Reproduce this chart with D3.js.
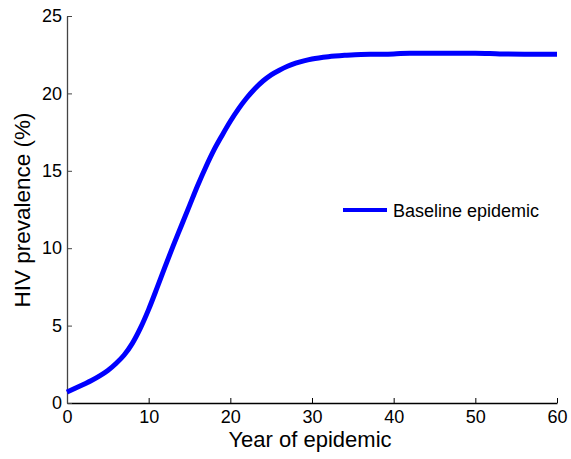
<!DOCTYPE html>
<html>
<head>
<meta charset="utf-8">
<script src="https://cdn.jsdelivr.net/npm/d3@7"></script>
<style>
  body { margin: 0; background: #fff; }
  text { font-family: "Liberation Sans", Arial, sans-serif; fill: #000; }
</style>
</head>
<body>
<svg width="571" height="459"></svg>
<script>
// datos
var years = [0, 1, 2, 3, 4, 5, 6, 7, 8, 9, 10, 11, 12, 13, 14, 15, 16, 17, 18, 19, 20,
             21, 22, 23, 24, 25, 26, 27, 28, 29, 30, 32, 34, 36, 38, 40, 42, 46, 50, 53, 56, 60];
var prevalence = [0.7, 0.95, 1.2, 1.45, 1.75, 2.1, 2.55, 3.1, 3.85, 4.85, 6.05, 7.4, 8.8, 10.15, 11.45,
                  12.75, 14.05, 15.25, 16.35, 17.3, 18.2, 19.0, 19.7, 20.3, 20.8, 21.2, 21.5, 21.75,
                  21.95, 22.1, 22.22, 22.37, 22.46, 22.52, 22.53, 22.55, 22.6, 22.6, 22.6, 22.55, 22.53, 22.53];
var xTicks = [0, 10, 20, 30, 40, 50, 60];
var yTicks = [0, 5, 10, 15, 20, 25];
var serieNombre = "Baseline epidemic";

var svg = d3.select("svg");

var x = d3.scaleLinear().domain([0, 60]).range([67, 557]);
var y = d3.scaleLinear().domain([0, 25]).range([403, 16]);

// eje x
var ejeX = svg.append("g")
    .attr("transform", "translate(0,403)")
    .call(d3.axisBottom(x).tickValues(xTicks).tickSizeInner(-5).tickSizeOuter(0).tickPadding(7));
ejeX.select(".domain").attr("stroke", "#000").attr("stroke-width", 1.3);
ejeX.selectAll(".tick line").attr("stroke", "#000");
ejeX.selectAll("text").style("font-size", "18px").attr("fill", "#000");

// eje y
var ejeY = svg.append("g")
    .attr("transform", "translate(67,0)")
    .call(d3.axisLeft(y).tickValues(yTicks).tickSizeInner(-5).tickSizeOuter(0).tickPadding(5));
ejeY.select(".domain").attr("stroke", "#444").attr("stroke-width", 1.3);
ejeY.selectAll(".tick line").attr("stroke", "#444");
ejeY.selectAll("text").style("font-size", "18px").attr("fill", "#000");

// titulos
svg.append("text")
    .attr("x", 310).attr("y", 447)
    .attr("text-anchor", "middle")
    .style("font-size", "22px")
    .text("Year of epidemic");

svg.append("text")
    .attr("transform", "translate(30,210) rotate(-90)")
    .attr("text-anchor", "middle")
    .style("font-size", "22.5px")
    .text("HIV prevalence (%)");

// curva
var datos = years.map(function (d, i) { return [d, prevalence[i]]; });
var linea = d3.line()
    .x(function (d) { return x(d[0]); })
    .y(function (d) { return y(d[1]); })
    .curve(d3.curveMonotoneX);

svg.append("path")
    .datum(datos)
    .attr("d", linea)
    .attr("fill", "none")
    .attr("stroke", "#0000ff")
    .attr("stroke-width", 5);

// leyenda
svg.append("line")
    .attr("x1", 343).attr("x2", 387)
    .attr("y1", 210).attr("y2", 210)
    .attr("stroke", "#0000ff")
    .attr("stroke-width", 4);

svg.append("text")
    .attr("x", 393).attr("y", 216.5)
    .style("font-size", "18px")
    .text(serieNombre);
</script>
</body>
</html>
